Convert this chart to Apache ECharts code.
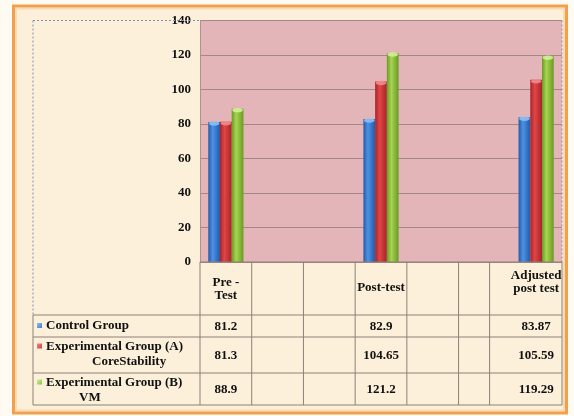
<!DOCTYPE html>
<html>
<head>
<meta charset="utf-8">
<script src="https://cdn.jsdelivr.net/npm/echarts@6/dist/echarts.min.js"></script>
<style>
  html, body { margin: 0; padding: 0; background: #fffaf2; }
  #chart { width: 574px; height: 416px; }
</style>
</head>
<body>
<div id="chart"></div>
<script>
// Test phases (blank slots keep the spacing between the three phases)
const categories = ['Pre -\nTest', '', '', 'Post-test', '', '', 'Adjusted\npost test'];

// Mean scores per group
const controlGroup = [81.2, null, null, 82.9, null, null, 83.87];
const groupA = [81.3, null, null, 104.65, null, null, 105.59];
const groupB = [88.9, null, null, 121.2, null, null, 119.29];

// Row labels of the data table (first line, second line)
const rowLabels = [
  ['Control Group'],
  ['Experimental Group (A)', 'CoreStability'],
  ['Experimental Group (B)', 'VM']
];

// Value axis range
const yMin = 0;
const yMax = 140;
const yStep = 20;

const seriesData = [controlGroup, groupA, groupB];
const palette = [
  { dark: '#245aa8', mid: '#4d92e4', cap: '#8cc0f2', key: '#3f7fd0' },
  { dark: '#a8232a', mid: '#e04646', cap: '#f28a8a', key: '#d43a3a' },
  { dark: '#6a9a22', mid: '#a6d452', cap: '#d2f096', key: '#8cc03c' }
];
const FONT = 'Liberation Serif, Times New Roman, serif';
const CAT_GAP = 0.32;

function barGradient(c) {
  return new echarts.graphic.LinearGradient(0, 0, 1, 0, [
    { offset: 0, color: c.dark },
    { offset: 0.38, color: c.mid },
    { offset: 1, color: c.dark }
  ]);
}

const chart = echarts.init(document.getElementById('chart'), null, { renderer: 'canvas' });

const barSeries = seriesData.map((d, k) => ({
  type: 'bar',
  name: rowLabels[k].join(' '),
  data: d,
  barGap: '0%',
  barCategoryGap: (CAT_GAP * 100) + '%',
  itemStyle: { color: barGradient(palette[k]) },
  z: 3
}));

// Elliptical caps on top of each bar
const capData = categories
  .map((c, i) => [i, controlGroup[i], groupA[i], groupB[i]])
  .filter(r => r[1] != null);

const capSeries = {
  type: 'custom',
  data: capData,
  encode: { x: 0, y: 1 },
  z: 4,
  silent: true,
  renderItem: function (params, api) {
    const i = api.value(0);
    const cw = api.size([1, 0])[0];
    const bw = cw * (1 - CAT_GAP) / 3;
    const children = [];
    for (let k = 0; k < 3; k++) {
      const v = api.value(k + 1);
      const p = api.coord([i, v]);
      children.push({
        type: 'ellipse',
        shape: { cx: p[0] + (k - 1) * bw, cy: p[1] + 1.5, rx: bw / 2 - 0.5, ry: 2.2 },
        style: { fill: palette[k].cap, opacity: 0.9 }
      });
    }
    return { type: 'group', children: children };
  }
};

chart.setOption({
  animation: false,
  backgroundColor: 'transparent',
  grid: { left: 200, right: 12, top: 20.5, bottom: 154 },
  xAxis: {
    type: 'category',
    data: categories,
    axisLine: { show: false },
    axisTick: { show: false },
    axisLabel: { show: false },
    splitLine: { show: false }
  },
  yAxis: {
    type: 'value',
    min: yMin,
    max: yMax,
    interval: yStep,
    axisLine: { show: true, lineStyle: { color: '#b09090', width: 1 } },
    axisTick: { show: false },
    axisLabel: {
      margin: 9,
      color: '#111',
      fontFamily: FONT,
      fontWeight: 'bold',
      fontSize: 13
    },
    splitLine: { show: true, lineStyle: { color: '#a58787', width: 1 } }
  },
  series: barSeries.concat([capSeries])
});

// Data table and frame, positioned from the axes
function drawTable() {
  const c0 = chart.convertToPixel({ xAxisIndex: 0 }, 0);
  const c1 = chart.convertToPixel({ xAxisIndex: 0 }, 1);
  const cw = c1 - c0;
  const plotLeft = c0 - cw / 2;
  const plotRight = plotLeft + cw * categories.length;
  const base = chart.convertToPixel({ yAxisIndex: 0 }, yMin);
  const top = chart.convertToPixel({ yAxisIndex: 0 }, yMax);
  const tableLeft = 33;
  const colUnits = [0, 1, 2, 3, 4, 5, 5.6, 7];
  const headerH = 53;
  const rowH = [22, 36, 32];
  const rowTop = [base + headerH];
  rowH.forEach((h, r) => rowTop.push(rowTop[r] + h));
  const tableBottom = rowTop[rowTop.length - 1];
  const lineColor = '#8d8078';
  const els = [];

  // page frame and panel
  els.push({
    type: 'rect', z: -20,
    shape: { x: 13.5, y: 6, width: 553, height: 407 },
    style: { fill: '#fcf0da', stroke: '#f2a04e', lineWidth: 3 }
  });
  els.push({
    type: 'rect', z: -19,
    shape: { x: 16, y: 8.5, width: 548, height: 402 },
    style: { fill: 'none', stroke: 'rgba(245,190,130,0.45)', lineWidth: 2 }
  });
  // plot area fill
  els.push({
    type: 'rect', z: -10,
    shape: { x: plotLeft, y: top, width: plotRight - plotLeft, height: base - top },
    style: { fill: '#e3b5b9' }
  });

  const line = (x1, y1, x2, y2, dashed) => ({
    type: 'line', z: 5,
    shape: { x1: x1, y1: y1, x2: x2, y2: y2 },
    style: dashed
      ? { stroke: '#7f8fb8', lineWidth: 1, lineDash: [2, 2] }
      : { stroke: lineColor, lineWidth: 1 }
  });

  // selection outline of the chart area
  els.push(line(tableLeft, top, plotLeft, top, true));
  els.push(line(tableLeft, top, tableLeft, rowTop[0], true));
  els.push(line(plotRight, top, plotRight, base, true));

  // table grid
  els.push(line(plotLeft, base, plotRight, base));
  rowTop.forEach(y => els.push(line(tableLeft, y, plotRight, y)));
  els.push(line(tableLeft, rowTop[0], tableLeft, tableBottom));
  colUnits.forEach(u => {
    const x = plotLeft + u * cw;
    els.push(line(x, base, x, tableBottom));
  });

  const txt = (s, x, y, align) => ({
    type: 'text', z: 6,
    style: {
      text: s, x: x, y: y,
      align: align || 'center', verticalAlign: 'middle',
      fill: '#111', font: 'bold 13px ' + FONT,
      lineHeight: 13
    }
  });

  // header cells
  categories.forEach((name, i) => {
    if (!name) return;
    const cx = c0 + i * cw;
    const lines = name.split('\n');
    const midY = lines.length === 1 ? base + 26 : (name.indexOf('Pre') === 0 ? base + 27 : base + 20);
    els.push(txt(name, cx, midY));
  });

  // value rows with colour keys
  const secondIndent = [0, 46, 33];
  seriesData.forEach((d, k) => {
    const yTopRow = rowTop[k];
    const h = rowH[k];
    const labels = rowLabels[k];
    const firstY = labels.length === 1 ? yTopRow + h / 2 : yTopRow + 9.5;
    els.push({
      type: 'rect', z: 6,
      shape: { x: 37, y: firstY - 3, width: 5, height: 5 },
      style: {
        fill: new echarts.graphic.LinearGradient(0, 0, 1, 1, [
          { offset: 0, color: palette[k].cap },
          { offset: 1, color: palette[k].key }
        ])
      }
    });
    els.push(txt(labels[0], 46, firstY, 'left'));
    if (labels.length > 1) {
      els.push(txt(labels[1], 46 + secondIndent[k], firstY + 15, 'left'));
    }
    d.forEach((v, i) => {
      if (v == null) return;
      els.push(txt(String(v), c0 + i * cw, yTopRow + h / 2 + 1));
    });
  });

  chart.setOption({ graphic: { elements: els } });
}

drawTable();
</script>
</body>
</html>
